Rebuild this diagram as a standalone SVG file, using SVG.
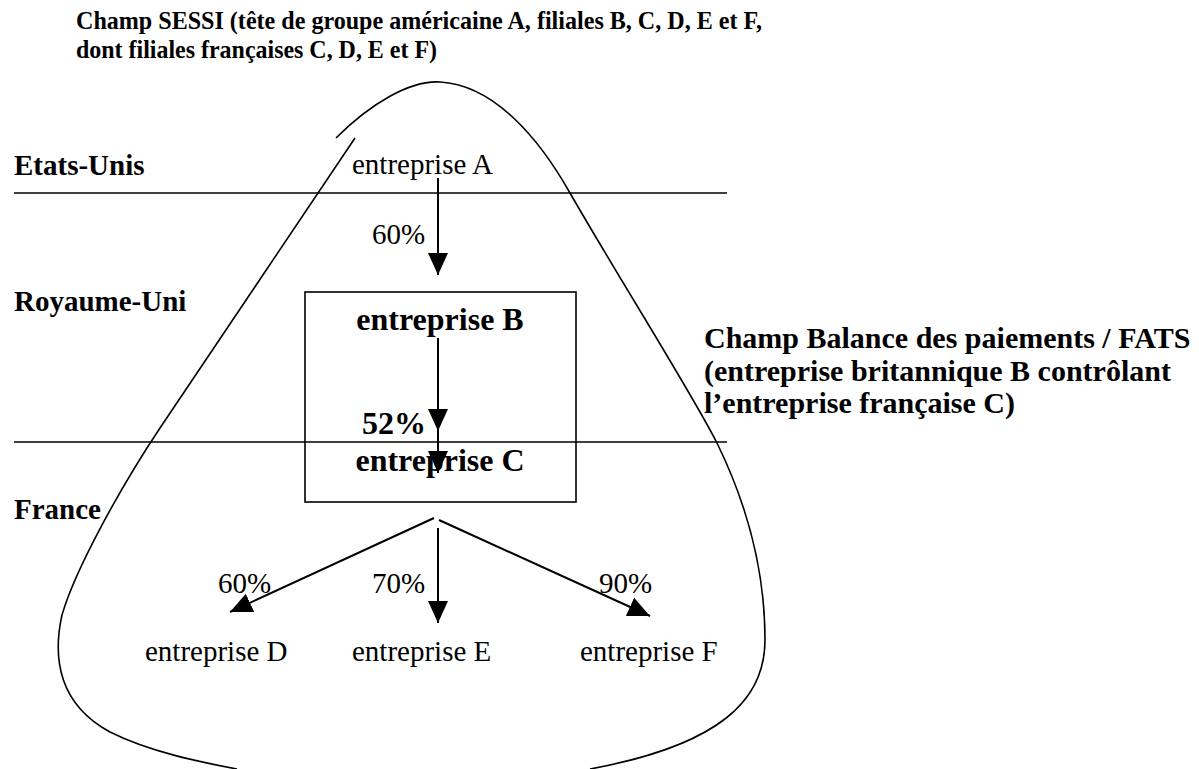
<svg xmlns="http://www.w3.org/2000/svg" width="1199" height="769" viewBox="0 0 1199 769">
<style>
text{font-family:"Liberation Serif","Times New Roman",serif;fill:#000}
.b{font-weight:bold}
.t{font-size:26px}
.l{font-size:29px}
.k{font-size:30px}
.n{font-size:32px}
.r{font-size:29px}
.ln{stroke:#000;stroke-width:2;fill:none}
.c{stroke:#000;stroke-width:1.6;fill:none}
</style>
<defs>
<marker id="ah" markerUnits="userSpaceOnUse" markerWidth="22" markerHeight="22" viewBox="0 0 22 22" refX="22" refY="11" orient="auto">
<path d="M0,1 L22,11 L0,21 Z" fill="#000"/>
</marker>
</defs>
<rect width="1199" height="769" fill="#fff"/>
<g id="title">
<text class="b t" x="76" y="29" textLength="686" lengthAdjust="spacingAndGlyphs">Champ SESSI (tête de groupe américaine A, filiales B, C, D, E et F,</text>
<text class="b t" x="76" y="58" textLength="361" lengthAdjust="spacingAndGlyphs">dont filiales françaises C, D, E et F)</text>
</g>
<g id="sessi-field">
<path class="c" d="M336,138 C370,104 410,80 440,82 C495,85 540,140 570,193 C620,280 690,390 717,443 C740,490 765,560 765,640 C765,700 720,745 590,769"/>
<path class="c" d="M355,138 L160,428 C120,488 75,570 62,615 C52,660 60,705 110,732 C150,752 200,762 237,769"/>
</g>
<g id="borders">
<line class="c" x1="14" y1="193" x2="727" y2="193"/>
<line class="c" x1="14" y1="442" x2="727" y2="442"/>
</g>
<g id="countries">
<text class="b l" x="14" y="175">Etats-Unis</text>
<text class="b l" x="14" y="311">Royaume-Uni</text>
<text class="b l" x="14" y="519">France</text>
</g>
<g id="bop-field">
<rect class="c" x="305" y="292" width="271" height="210"/>
<text class="b k" x="704" y="348">Champ Balance des paiements / FATS</text>
<text class="b k" x="704" y="381">(entreprise britannique B contrôlant</text>
<text class="b k" x="704" y="413">l’entreprise française C)</text>
</g>
<g id="node-A"><text class="r" x="352" y="174">entreprise A</text></g>
<g id="node-B"><text class="b n" x="440" y="330" text-anchor="middle">entreprise B</text></g>
<g id="node-C"><text class="b n" x="440" y="471" text-anchor="middle">entreprise C</text></g>
<g id="node-D"><text class="r" x="145" y="661">entreprise D</text></g>
<g id="node-E"><text class="r" x="352" y="661">entreprise E</text></g>
<g id="node-F"><text class="r" x="580" y="661">entreprise F</text></g>
<g id="connectors">
<path class="ln" d="M438,178 L438,275" marker-end="url(#ah)"/>
<path class="ln" d="M438,338 L438,431 L438,473" marker-mid="url(#ah)" marker-end="url(#ah)"/>
<path class="ln" d="M434,518 L230,612" marker-end="url(#ah)"/>
<path class="ln" d="M438,528 L438,623" marker-end="url(#ah)"/>
<path class="ln" d="M439,520 L650,616" marker-end="url(#ah)"/>
</g>
<g id="labels">
<text class="r" x="372" y="244">60%</text>
<text class="b n" x="362" y="434">52%</text>
<text class="r" x="218" y="593">60%</text>
<text class="r" x="372" y="593">70%</text>
<text class="r" x="599" y="593">90%</text>
</g>
</svg>
